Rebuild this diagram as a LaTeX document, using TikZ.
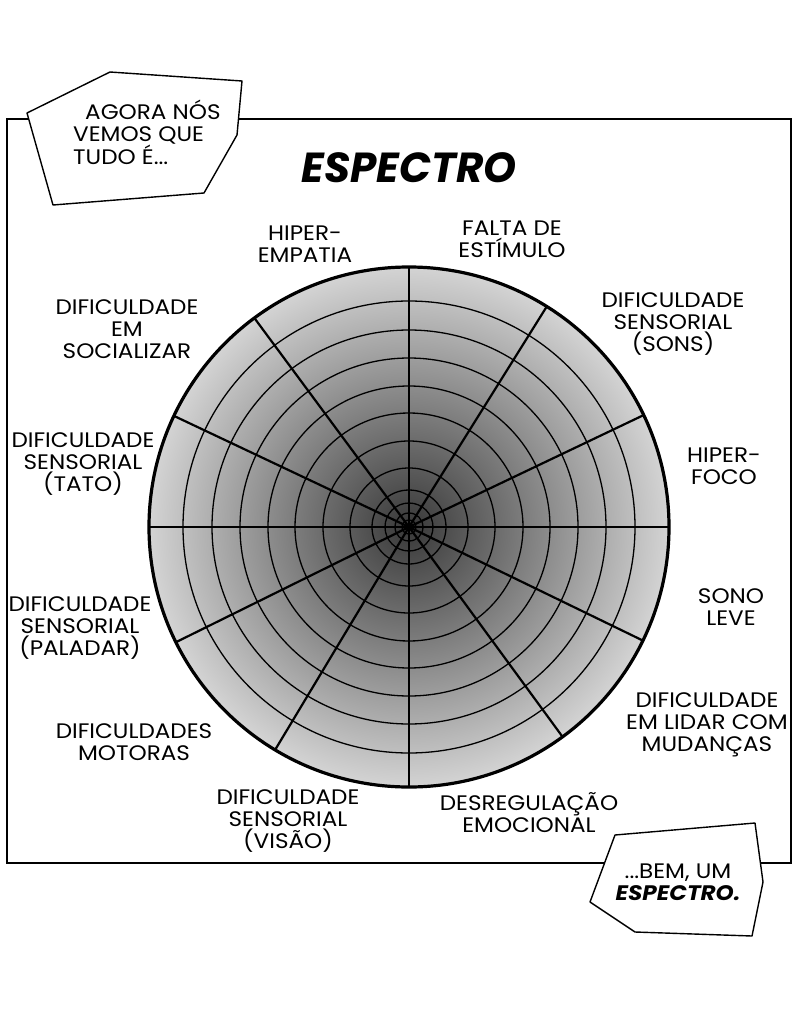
\documentclass[tikz,border=0pt]{standalone}
\usepackage{fontspec}
\setmainfont{Poppins}[FakeStretch=1.1]
\newfontfamily\titulofont{Poppins}
\usepackage{tikz}
\usetikzlibrary{calc}
\definecolor{centro}{gray}{0.22}
\definecolor{borda}{gray}{0.83}
\pgfdeclareradialshading{espectro}{\pgfpoint{0bp}{0bp}}{color(0bp)=(centro); color(25bp)=(borda); color(50bp)=(borda)}

\begin{document}
\begin{tikzpicture}[x=1pt,y=-1pt,
  rotulo/.style={align=center,inner sep=0pt,font=\fontsize{21}{22}\selectfont},
  balao/.style={draw,fill=white,line width=1.4pt,line join=round}]
\useasboundingbox (0,0) rectangle (800,1030);
\draw[line width=1.6pt] (7,119) rectangle (791,863);

% grafico
\coordinate (c) at (409,527);
\shade[shading=espectro] (c) circle (260pt);
\foreach \r in {7,14,24,37,59,86,114,141,169,197,226}
  \draw[line width=1.3pt] (c) circle (\r pt);
\foreach \a in {0,25.5,58,90,126.5,154.7,180,206.3,239,270,306.2,334.1}
  \draw[line width=2.2pt] (c) -- ++(\a:260pt);
\draw[line width=3.2pt] (c) circle (260pt);

\node[font=\titulofont\fontsize{42}{42}\selectfont\bfseries\itshape] (titulo) at (409,168) {ESPECTRO};

% rotulos
\node[rotulo] (hiperempatia) at (305,244) {HIPER-\\EMPATIA};
\node[rotulo] (estimulo) at (512,239) {FALTA DE\\ESTÍMULO};
\node[rotulo] (sons) at (673,324) {DIFICULDADE\\SENSORIAL\\(SONS)};
\node[rotulo] (hiperfoco) at (724,466) {HIPER-\\FOCO};
\node[rotulo] (sono) at (731,607) {SONO\\LEVE};
\node[rotulo] (mudancas) at (707,725) {DIFICULDADE\\EM LIDAR COM\\MUDANÇAS};
\node[rotulo] (desregulacao) at (529,813) {DESREGULAÇÃO\\EMOCIONAL};
\node[rotulo] (visao) at (288,821) {DIFICULDADE\\SENSORIAL\\(VISÃO)};
\node[rotulo] (motoras) at (134,742) {DIFICULDADES\\MOTORAS};
\node[rotulo] (paladar) at (80,628) {DIFICULDADE\\SENSORIAL\\(PALADAR)};
\node[rotulo] (tato) at (83,464) {DIFICULDADE\\SENSORIAL\\(TATO)};
\node[rotulo] (socializar) at (127,329) {DIFICULDADE\\EM\\SOCIALIZAR};

% baloes
\draw[balao] (27,113) -- (110,72) -- (242,81) -- (237,135) -- (204,193) -- (53,205) -- cycle;
\node[rotulo,align=left,anchor=west] (fala1) at (73,132) {\hspace{12pt}AGORA NÓS\\VEMOS QUE\\TUDO É...};
\draw[balao] (615,835) -- (755,823) -- (763,882) -- (752,936) -- (635,932) -- (590,902) -- cycle;
\node[rotulo] (fala2) at (678,882) {...BEM, UM\\\textbf{\itshape ESPECTRO.}};
\end{tikzpicture}
\end{document}
